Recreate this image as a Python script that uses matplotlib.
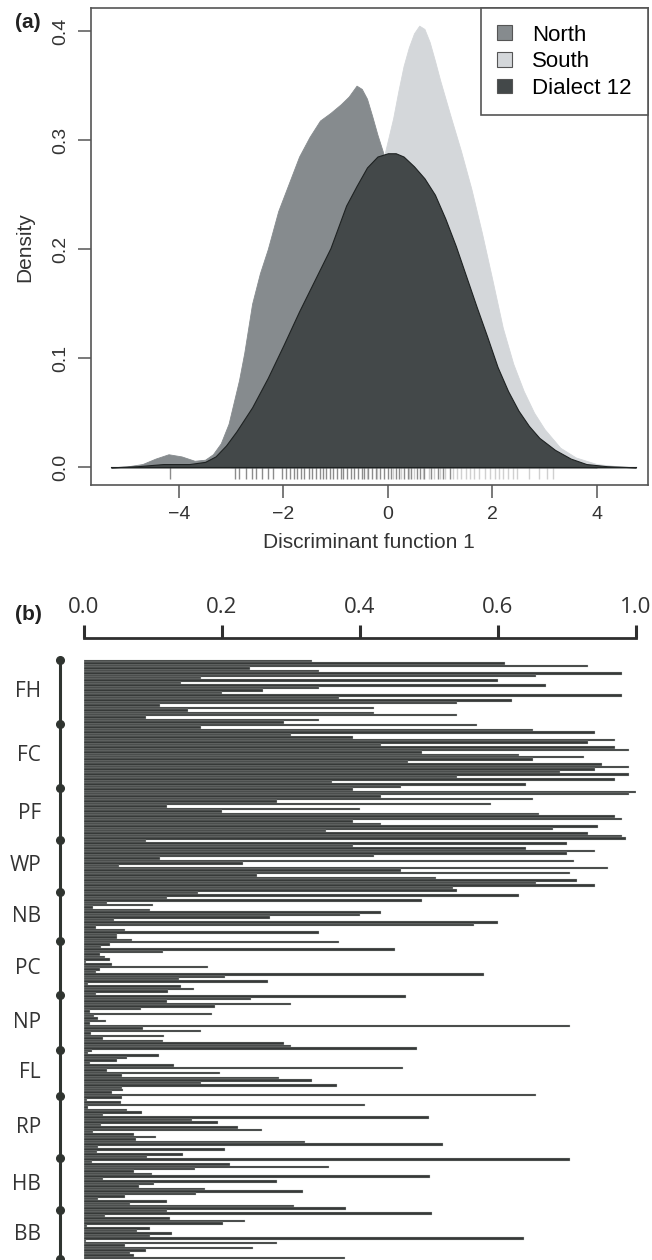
import numpy as np
import matplotlib
matplotlib.use('Agg')
import matplotlib.pyplot as plt
from matplotlib.patches import Patch

# ---- panel (a): density of discriminant function 1 ----
north_x = [-5.3, -5.0, -4.7, -4.45, -4.2, -3.95, -3.7, -3.5, -3.35, -3.2, -3.05,
           -2.95, -2.85, -2.75, -2.6, -2.45, -2.3, -2.1, -1.9, -1.7, -1.5, -1.3,
           -1.1, -0.9, -0.75, -0.6, -0.5, -0.4, -0.3, -0.2, -0.1, 0.0, 0.3, 0.6,
           1.0, 1.5, 2.0, 2.5, 3.0, 3.5, 4.0]
north_y = [0.0, 0.0008, 0.003, 0.008, 0.012, 0.01, 0.006, 0.007, 0.012, 0.022, 0.04,
           0.06, 0.08, 0.105, 0.15, 0.178, 0.2, 0.235, 0.26, 0.285, 0.303, 0.318,
           0.325, 0.333, 0.34, 0.35, 0.347, 0.338, 0.322, 0.305, 0.29, 0.27, 0.21,
           0.15, 0.09, 0.042, 0.017, 0.006, 0.002, 0.0005, 0.0]
south_x = [-3.0, -2.5, -2.0, -1.5, -1.0, -0.5, -0.2, 0.0, 0.1, 0.2, 0.3, 0.4, 0.5,
           0.6, 0.7, 0.8, 0.9, 1.0, 1.2, 1.4, 1.6, 1.8, 2.0, 2.2, 2.4, 2.6, 2.8,
           3.0, 3.3, 3.6, 4.0, 4.4, 4.75]
south_y = [0.002, 0.008, 0.022, 0.05, 0.1, 0.19, 0.26, 0.3, 0.32, 0.345, 0.368,
           0.385, 0.398, 0.405, 0.402, 0.39, 0.373, 0.355, 0.322, 0.29, 0.255,
           0.215, 0.172, 0.128, 0.095, 0.07, 0.05, 0.035, 0.018, 0.009, 0.003,
           0.001, 0.0]
dialect_x = [-5.3, -4.8, -4.3, -3.8, -3.5, -3.3, -3.1, -2.9, -2.6, -2.3, -2.0, -1.7,
             -1.4, -1.1, -0.8, -0.6, -0.4, -0.2, 0.0, 0.15, 0.3, 0.5, 0.7, 0.9,
             1.1, 1.3, 1.5, 1.7, 1.9, 2.1, 2.3, 2.5, 2.7, 2.9, 3.2, 3.5, 3.8, 4.2,
             4.75]
dialect_y = [0.0, 0.001, 0.003, 0.003, 0.005, 0.01, 0.02, 0.033, 0.055, 0.082, 0.112,
             0.143, 0.172, 0.201, 0.24, 0.258, 0.275, 0.285, 0.288, 0.288, 0.285,
             0.276, 0.265, 0.25, 0.228, 0.203, 0.175, 0.147, 0.12, 0.092, 0.07,
             0.052, 0.038, 0.027, 0.016, 0.008, 0.003, 0.001, 0.0]
rug_dark = [-4.17, -2.93, -2.85, -2.72, -2.6, -2.52, -2.41, -2.3, -2.2, -2.02,
            -1.95, -1.88, -1.8, -1.74, -1.66, -1.6, -1.52, -1.45, -1.38, -1.3,
            -1.24, -1.18, -1.1, -1.05, -0.98, -0.9, -0.85, -0.78, -0.7, -0.64,
            -0.58, -0.5, -0.45, -0.38, -0.3, -0.22, -0.15, -0.08, 0.0, 0.06,
            0.15, 0.22, 0.3, 0.38, 0.45, 0.55, 0.62, 0.7, 0.82, 0.95, 1.05, 1.18]
rug_light = [-0.4, -0.2, 0.1, 0.25, 0.4, 0.5, 0.68, 0.78, 0.88, 1.0, 1.1, 1.25,
             1.32, 1.4, 1.5, 1.58, 1.65, 1.75, 1.85, 1.95, 2.05, 2.12, 2.2, 2.3,
             2.4, 2.47, 2.7, 2.9, 3.05, 3.17]
legend_labels = ['North', 'South', 'Dialect 12']

# ---- panel (b): membership bars per site ----
site_names = ['FH', 'FC', 'PF', 'WP', 'NB', 'PC', 'NP', 'FL', 'RP', 'HB', 'BB']
fh = [0.33, 0.61, 0.73, 0.24, 0.34, 0.78, 0.655, 0.17, 0.60, 0.14, 0.67, 0.34, 0.26,
      0.20, 0.78, 0.37, 0.62, 0.54, 0.11, 0.42, 0.15, 0.42, 0.54, 0.09, 0.34, 0.29]
fc = [0.57, 0.17, 0.65, 0.74, 0.30, 0.39, 0.77, 0.73, 0.43, 0.77, 0.79, 0.49, 0.63,
      0.725, 0.65, 0.47, 0.75, 0.79, 0.74, 0.69, 0.79, 0.54, 0.77, 0.36, 0.64, 0.46]
pf = [0.39, 0.80, 0.79, 0.43, 0.65, 0.28, 0.59, 0.12, 0.40, 0.20, 0.66, 0.77, 0.78,
      0.39, 0.43, 0.745, 0.68, 0.35, 0.73, 0.78, 0.785]
wp = [0.09, 0.70, 0.39, 0.64, 0.74, 0.70, 0.42, 0.11, 0.71, 0.23, 0.05, 0.76, 0.46,
      0.705, 0.25, 0.51, 0.715, 0.655, 0.74, 0.535, 0.54]
nb = [0.165, 0.63, 0.12, 0.49, 0.034, 0.10, 0.013, 0.095, 0.43, 0.40, 0.27, 0.044,
      0.60, 0.565, 0.017, 0.06, 0.34, 0.048, 0.048, 0.069]
pc = [0.37, 0.037, 0.025, 0.45, 0.115, 0.023, 0.03, 0.038, 0.003, 0.04, 0.18, 0.023,
      0.017, 0.58, 0.205, 0.137, 0.267, 0.006, 0.14, 0.16, 0.122, 0.017]
np_site = [0.466, 0.242, 0.12, 0.30, 0.19, 0.082, 0.009, 0.186, 0.014, 0.02, 0.032,
           0.009, 0.705, 0.085, 0.17, 0.01, 0.116, 0.028, 0.114, 0.29, 0.30, 0.483]
fl = [0.011, 0.006, 0.109, 0.062, 0.048, 0.008, 0.131, 0.463, 0.034, 0.197, 0.055,
      0.283, 0.33, 0.17, 0.366, 0.055, 0.056, 0.04, 0.655]
rp = [0.055, 0.004, 0.053, 0.407, 0.006, 0.063, 0.084, 0.028, 0.50, 0.156, 0.194,
      0.025, 0.223, 0.258, 0.013, 0.072, 0.105, 0.076, 0.32, 0.52, 0.02, 0.205,
      0.019, 0.144, 0.091]
hb = [0.704, 0.011, 0.211, 0.355, 0.161, 0.073, 0.098, 0.502, 0.028, 0.279, 0.101,
      0.08, 0.176, 0.317, 0.162, 0.059, 0.021, 0.12, 0.067, 0.304, 0.379]
bb = [0.121, 0.505, 0.031, 0.125, 0.233, 0.202, 0.004, 0.095, 0.077, 0.128, 0.095,
      0.638, 0.003, 0.279, 0.059, 0.245, 0.09, 0.067, 0.073, 0.378]
site_values = [fh, fc, pf, wp, nb, pc, np_site, fl, rp, hb, bb]
top_ticks = [0.0, 0.2, 0.4, 0.6, 0.8]
top_tick_labels = ['0.0', '0.2', '0.4', '0.6', '1.0']

W, H = 652, 1260
fig = plt.figure(figsize=(W / 100, H / 100), dpi=100)


def px_box(x0, y0, x1, y1):
    return [x0 / W, 1 - y1 / H, (x1 - x0) / W, (y1 - y0) / H]


# ---------------- panel (a) ----------------
sans = 'Liberation Sans'
axc = '#555555'
ax1 = fig.add_axes(px_box(90.7, 8, 648, 485))
ax1.fill_between(south_x, 0, south_y, color='#d4d7da', lw=0.6, zorder=2)
ax1.fill_between(north_x, 0, north_y, color='#868b8e', lw=0.6, zorder=3)
ax1.fill_between(dialect_x, 0, dialect_y, facecolor='#434849', edgecolor='#1e2222',
                 lw=0.8, zorder=4)
ax1.plot([-5.3, 4.75], [0, 0], color='#1e2222', lw=0.8, zorder=5)
ax1.vlines(rug_light, -0.011, 0, colors='#d0d0d0', lw=1, zorder=1)
ax1.vlines(rug_dark, -0.011, 0, colors='#8c8c8c', lw=1, zorder=1)
ax1.set_xlim(-5.69, 4.98)
ax1.set_ylim(-0.0162, 0.4212)
ax1.set_xticks([-4, -2, 0, 2, 4])
ax1.set_xticklabels(['\u22124', '\u22122', '0', '2', '4'], fontsize=14,
                    family=sans, color='#333333')
ax1.set_yticks([0.0, 0.1, 0.2, 0.3, 0.4])
ax1.set_yticklabels(['0.0', '0.1', '0.2', '0.3', '0.4'], fontsize=14,
                    family=sans, color='#333333', rotation=90, va='center')
ax1.tick_params(length=9.4, width=1.1, color=axc, pad=6)
for s in ax1.spines.values():
    s.set_color(axc)
    s.set_linewidth(1.2)

handles = [Patch(facecolor=c, edgecolor='#555555', lw=0.8)
           for c in ['#868b8e', '#d4d7da', '#434849']]
leg = ax1.legend(handles, legend_labels, loc='upper right', borderaxespad=0,
                 fancybox=False, framealpha=1, edgecolor=axc,
                 prop={'family': sans, 'size': 16}, handlelength=0.65,
                 handleheight=0.65, handletextpad=0.9, labelspacing=0.25,
                 borderpad=0.75)
leg.get_frame().set_linewidth(1.2)

fig.text(25 / W, 1 - 247 / H, 'Density', rotation=90, ha='center', va='center',
         fontsize=15, family=sans, color='#333333')
fig.text(369 / W, 1 - 542 / H, 'Discriminant function 1', ha='center',
         va='center', fontsize=15, family=sans, color='#333333')
fig.text(15 / W, 1 - 22 / H, '(a)', ha='left', va='center', fontsize=15,
         family=sans, weight='bold', color='#222222')

# ---------------- panel (b) ----------------
osans = 'Open Sans'
bar_col = '#363938'
ax2 = fig.add_axes(px_box(84, 658, 636, 1260))
vals = [v for grp in site_values for v in grp]
n = len(vals)
ax2.barh(np.arange(n), vals, height=1.0, color=bar_col, edgecolor='#c4c8c4',
         lw=0.22)
ax2.set_xlim(0, 0.8)
ax2.set_ylim(n - 0.2, -1.21)
for k in ['left', 'right', 'bottom']:
    ax2.spines[k].set_visible(False)
ax2.spines['top'].set_position(('outward', 14.4))
ax2.spines['top'].set_bounds(0, 0.8)
ax2.spines['top'].set_linewidth(2)
ax2.spines['top'].set_color('#2f2f2f')
ax2.xaxis.tick_top()
ax2.set_xticks(top_ticks)
ax2.set_xticklabels(top_tick_labels, fontsize=16, family=osans, color='#333333')
ax2.tick_params(axis='x', length=9.4, width=2.2, color='#2f2f2f', pad=5)
ax2.set_yticks([])

# site grouping line with dots
starts = np.cumsum([0] + [len(g) for g in site_values])
bounds = starts - 0.5
trans = ax2.get_yaxis_transform()
xline = (60 - 84) / 552
ax2.plot([xline, xline], [bounds[0], bounds[-1]], color='#2f3430', lw=2.2,
         transform=trans, clip_on=False)
ax2.plot([xline] * len(bounds), bounds, 'o', color='#2f3430', ms=5.5,
         transform=trans, clip_on=False)
xlab = (41 - 84) / 552
for name, a, b in zip(site_names, bounds[:-1], bounds[1:]):
    ax2.text(xlab, (a + b) / 2, name, transform=trans, ha='right', va='center',
             fontsize=15, family=osans, color='#333333')

fig.text(15 / W, 1 - 614 / H, '(b)', ha='left', va='center', fontsize=15,
         family=sans, weight='bold', color='#222222')

fig.savefig('out.png', dpi=100)
